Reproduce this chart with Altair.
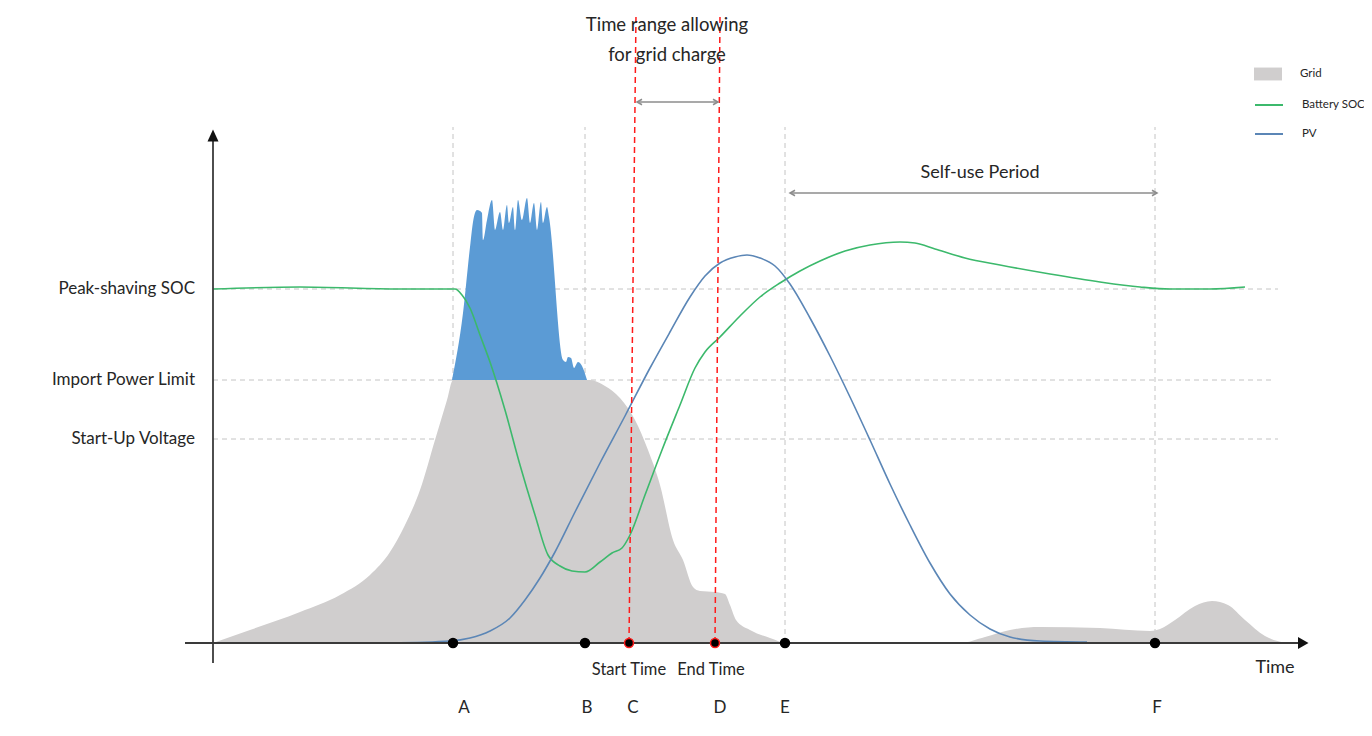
import altair as alt
import pandas as pd

# ---------------- data (time units / value units) ----------------
level_names = ["Peak-shaving SOC", "Import Power Limit", "Start-Up Voltage"]
level_values = [35.4, 26.3, 20.4]
level_ends = [106.5, 105.9, 106.5]

event_names = ["A", "B", "C", "D", "E", "F"]
event_t = [24.0, 37.2, 41.6, 50.2, 57.2, 94.2]
event_label_t = [25.1, 37.4, 42.0, 50.7, 57.2, 94.4]
grey_events = ["A", "B", "E", "F"]
red_events = ["C", "D"]
red_top_t = [42.3, 50.7]

grid_t = [0, 3.7, 8.7, 12.7, 15.7, 17.7, 19.2, 20.7, 22.2, 23.4, 24.0, 37.7, 39.2, 40.7,
          42.2, 43.5, 44.7, 46.0, 47.0, 48.0, 48.7, 50.2, 51.2, 51.7, 52.3, 53.7, 55.7, 57.4,
          74.7, 77.2, 79.7, 82.7, 88.7, 93.7, 94.7, 96.2, 98.2, 99.9, 101.5, 103.2, 105.2, 107.2]
grid_v = [0, 1.3, 3.1, 4.8, 6.8, 9.1, 11.8, 15.3, 20.3, 24.3, 26.3, 26.3, 25.7, 24.5,
          22.3, 19.3, 15.8, 10.3, 8.3, 5.6, 5.2, 5.1, 4.9, 3.8, 2.3, 1.3, 0.5, 0,
          0, 0.6, 1.3, 1.6, 1.5, 1.2, 1.4, 2.3, 3.7, 4.2, 3.8, 2.3, 0.7, 0]

pv_fill_t = [23.9, 25.0, 25.7, 26.0, 26.4, 26.7, 26.9, 27.0, 27.4, 27.9, 28.2, 28.7, 29.0,
             29.4, 29.6, 30.0, 30.2, 30.5, 30.9, 31.4, 31.7, 32.1, 32.4, 32.8, 33.0, 33.4,
             33.6, 35.0, 35.3, 35.5, 35.8, 36.1, 36.5, 36.9, 37.4]
pv_fill_v = [26.3, 33.0, 39.6, 42.1, 43.3, 43.2, 43.0, 40.3, 42.3, 44.3, 41.3, 43.1, 41.3,
             43.8, 42.0, 43.6, 41.3, 44.3, 42.3, 44.5, 42.0, 44.0, 41.3, 44.1, 42.0, 43.6,
             42.6, 28.3, 28.1, 28.6, 28.5, 27.5, 28.1, 27.7, 26.3]

soc_t = [0, 8.7, 18.7, 24.2, 24.9, 25.7, 26.7, 27.7, 29.2, 30.7, 32.2, 33.5, 34.7, 35.9,
         37.2, 38.7, 39.9, 40.9, 41.7, 43.2, 44.9, 46.7, 48.2, 49.2, 50.7, 52.7, 54.7,
         56.7, 58.7, 60.7, 63.2, 65.7, 68.7, 70.2, 72.2, 75.2, 78.7, 83.7, 88.7, 92.7,
         95.7, 99.7, 103.2]
soc_v = [35.4, 35.6, 35.4, 35.4, 34.8, 33.5, 30.8, 28.1, 23.3, 17.8, 12.8, 8.8, 7.7, 7.2,
         7.1, 8.1, 9.0, 9.5, 10.8, 14.8, 19.3, 23.8, 27.5, 29.1, 30.6, 32.7, 34.6,
         36.0, 37.2, 38.2, 39.2, 39.8, 40.1, 40.0, 39.4, 38.5, 37.8, 36.9, 36.1, 35.6,
         35.4, 35.4, 35.6]

pv_t = [17.7, 23.7, 25.7, 27.7, 29.7, 31.2, 32.7, 34.2, 36.2, 38.7, 41.2, 43.7, 45.7,
        47.7, 49.2, 50.7, 52.2, 53.4, 54.7, 56.2, 57.7, 59.7, 61.7, 63.7, 65.7, 67.7,
        69.7, 71.7, 73.7, 75.7, 77.7, 79.7, 82.7, 87.4]
pv_v = [0, 0.2, 0.5, 1.2, 2.5, 4.3, 6.5, 9.1, 13.1, 18.0, 22.7, 27.5, 31.1,
        34.6, 36.7, 38.0, 38.6, 38.8, 38.5, 37.7, 35.9, 32.5, 28.7, 24.6, 20.3, 15.9,
        11.8, 8.0, 4.9, 2.8, 1.4, 0.6, 0.2, 0.1]

# annotations
top_title = ["Time range allowing", "for grid charge"]
top_title_t = [45.4, 45.4]
top_title_v = [61.8, 58.8]
charge_arrow_t = [42.4, 50.5]
charge_arrow_v = 54.1
selfuse_label = "Self-use Period"
selfuse_label_t, selfuse_label_v = 76.7, 47.0
selfuse_arrow_t = [57.7, 94.4]
selfuse_arrow_v = 45.0
time_labels = ["Start Time", "End Time"]
time_labels_t = [41.6, 49.8]
time_labels_v = -2.65
axis_title = "Time"
axis_title_t, axis_title_v = 106.2, -2.5
letters_v = -6.5
x_axis_range = [-2.8, 108.7]
y_axis_range = [-2.0, 50.7]
x_head_t = 108.9
grey_top_v = 51.6
red_top_v = 62.8

# ---------------- styles ----------------
GRID = "#d0cece"
PVFILL = "#5b9bd5"
SOC = "#3cb96c"
PVLINE = "#5b86b6"
TXT = "#262626"
DASH = "#c4c4c4"
FONT = "Lato"

xs = alt.Scale(domain=[-20.5, 115.1], nice=False, zero=False)
ys = alt.Scale(domain=[-8.5, 63.5], nice=False, zero=False)
X = lambda f="t": alt.X(f"{f}:Q", scale=xs, axis=None)
Y = lambda f="v": alt.Y(f"{f}:Q", scale=ys, axis=None)

grid_df = pd.DataFrame({"t": grid_t, "v": grid_v, "series": "Grid"})
pvfill_df = pd.DataFrame({"t": pv_fill_t, "v": pv_fill_v})
lines_df = pd.concat([
    pd.DataFrame({"t": soc_t, "v": soc_v, "series": "Battery SOC"}),
    pd.DataFrame({"t": pv_t, "v": pv_v, "series": "PV"}),
])

grid_area = alt.Chart(grid_df).mark_area(interpolate="monotone", opacity=1).encode(
    x=X(), y=Y(), y2=alt.datum(0),
    fill=alt.Fill("series:N", scale=alt.Scale(domain=["Grid"], range=[GRID]),
                  legend=alt.Legend(title=None, orient="none", legendX=1246, legendY=52,
                                    symbolType="M-1,-0.46H1V0.46H-1Z", symbolSize=784,
                                    labelFont=FONT, labelFontSize=11.5, labelColor=TXT,
                                    labelOffset=18, padding=0, symbolStrokeWidth=0,
                                    symbolOpacity=1)),
)

pv_area = alt.Chart(pvfill_df).mark_area(interpolate="monotone", color=PVFILL, opacity=1).encode(
    x=X(), y=Y(), y2=alt.datum(level_values[1]))

lvl_df = pd.DataFrame({"t": 0.0, "t2": level_ends, "v": level_values, "name": level_names})
lvl_rules = alt.Chart(lvl_df).mark_rule(color=DASH, strokeDash=[5, 4], strokeWidth=1).encode(
    x=X(), x2="t2:Q", y=Y())

ev_df = pd.DataFrame({"t": event_t, "name": event_names, "lt": event_label_t})
grey_df = ev_df[ev_df["name"].isin(grey_events)].assign(v=0.0, v2=grey_top_v)
grey_rules = alt.Chart(grey_df).mark_rule(color=DASH, strokeDash=[5, 4], strokeWidth=1).encode(
    x=X(), y=Y(), y2="v2:Q")

red_df = ev_df[ev_df["name"].isin(red_events)].assign(v=0.0, v2=red_top_v, t2=red_top_t)
red_rules = alt.Chart(red_df).mark_rule(color="#ff1a1a", strokeDash=[6, 4], strokeWidth=1.5).encode(
    x=X(), x2="t2:Q", y=Y(), y2="v2:Q")

lines = alt.Chart(lines_df).mark_line(interpolate="monotone", strokeWidth=1.6).encode(
    x=X(), y=Y(),
    stroke=alt.Stroke("series:N", scale=alt.Scale(domain=["Battery SOC", "PV"], range=[SOC, PVLINE]),
                      legend=alt.Legend(title=None, orient="none", legendX=1246, legendY=82,
                                        symbolType="stroke", symbolSize=784, symbolStrokeWidth=2,
                                        labelFont=FONT, labelFontSize=11.5, labelColor=TXT,
                                        labelOffset=18, padding=0, rowPadding=8)),
    detail="series:N",
)

axes_df = pd.DataFrame({
    "t": [x_axis_range[0], 0.0], "t2": [x_axis_range[1], 0.0],
    "v": [0.0, y_axis_range[0]], "v2": [0.0, y_axis_range[1]],
})
axes = alt.Chart(axes_df).mark_rule(color="#3a3a3a", strokeWidth=1.8).encode(
    x=X(), x2="t2:Q", y=Y(), y2="v2:Q")
x_head = alt.Chart(pd.DataFrame({"t": [x_head_t], "v": [0.0]})).mark_point(
    shape="M1.3,0L-0.8,-1.2L-0.8,1.2Z", size=100, filled=True, color="#111", opacity=1).encode(x=X(), y=Y())
y_head = alt.Chart(pd.DataFrame({"t": [0.0], "v": [y_axis_range[1]]})).mark_point(
    shape="M0,-1.3L-1.1,1.1L1.1,1.1Z", size=100, filled=True, color="#111", opacity=1).encode(x=X(), y=Y())

dots_df = ev_df.assign(v=0.0, edge=[("#ff1a1a" if n in red_events else "#000") for n in event_names])
dots = alt.Chart(dots_df).mark_point(filled=True, size=80, opacity=1, strokeWidth=1.5).encode(
    x=X(), y=Y(), fill=alt.value("#000"), stroke=alt.Stroke("edge:N", scale=None, legend=None))

letters = alt.Chart(ev_df.assign(v=letters_v)).mark_text(
    font=FONT, fontSize=17, color=TXT, baseline="middle").encode(x=X("lt"), y=Y(), text="name:N")

lvl_text = alt.Chart(lvl_df.assign(tx=-1.8)).mark_text(
    font=FONT, fontSize=17, color=TXT, align="right", baseline="middle").encode(
    x=X("tx"), y=Y(), text="name:N")

tl_text = alt.Chart(pd.DataFrame({"t": time_labels_t, "v": time_labels_v, "s": time_labels})).mark_text(
    font=FONT, fontSize=16.5, color=TXT, baseline="middle").encode(x=X(), y=Y(), text="s:N")

ax_title = alt.Chart(pd.DataFrame({"t": [axis_title_t], "v": [axis_title_v], "s": [axis_title]})).mark_text(
    font=FONT, fontSize=18, color=TXT, baseline="middle").encode(x=X(), y=Y(), text="s:N")

top_text = alt.Chart(pd.DataFrame({"t": top_title_t, "v": top_title_v, "s": top_title})).mark_text(
    font=FONT, fontSize=18.5, color=TXT, baseline="middle").encode(x=X(), y=Y(), text="s:N")

su_text = alt.Chart(pd.DataFrame({"t": [selfuse_label_t], "v": [selfuse_label_v], "s": [selfuse_label]})).mark_text(
    font=FONT, fontSize=18, color=TXT, baseline="middle").encode(x=X(), y=Y(), text="s:N")

arr_df = pd.DataFrame({"t": [charge_arrow_t[0], selfuse_arrow_t[0]],
                       "t2": [charge_arrow_t[1], selfuse_arrow_t[1]],
                       "v": [charge_arrow_v, selfuse_arrow_v]})
arr_lines = alt.Chart(arr_df).mark_rule(color="#8c8c8c", strokeWidth=1.5).encode(x=X(), x2="t2:Q", y=Y())
arr_left = alt.Chart(arr_df).mark_point(shape="M2,-1.1L0,0L2,1.1", size=25, filled=False,
                                        color="#8c8c8c", strokeWidth=1.5, opacity=1).encode(x=X(), y=Y())
arr_right = alt.Chart(arr_df).mark_point(shape="M-2,-1.1L0,0L-2,1.1", size=25, filled=False,
                                         color="#8c8c8c", strokeWidth=1.5, opacity=1).encode(x=X("t2"), y=Y())

chart = alt.layer(
    lvl_rules, grey_rules, grid_area, pv_area, lines, red_rules, axes, x_head, y_head, dots,
    letters, lvl_text, tl_text, ax_title, top_text, su_text, arr_lines, arr_left, arr_right,
).resolve_scale(fill="independent", stroke="independent").properties(
    width=1356, height=720, padding=0, autosize="none", background="white"
).configure_view(stroke=None)

chart.save("out.html", embed_options={"renderer": "svg", "actions": False})
